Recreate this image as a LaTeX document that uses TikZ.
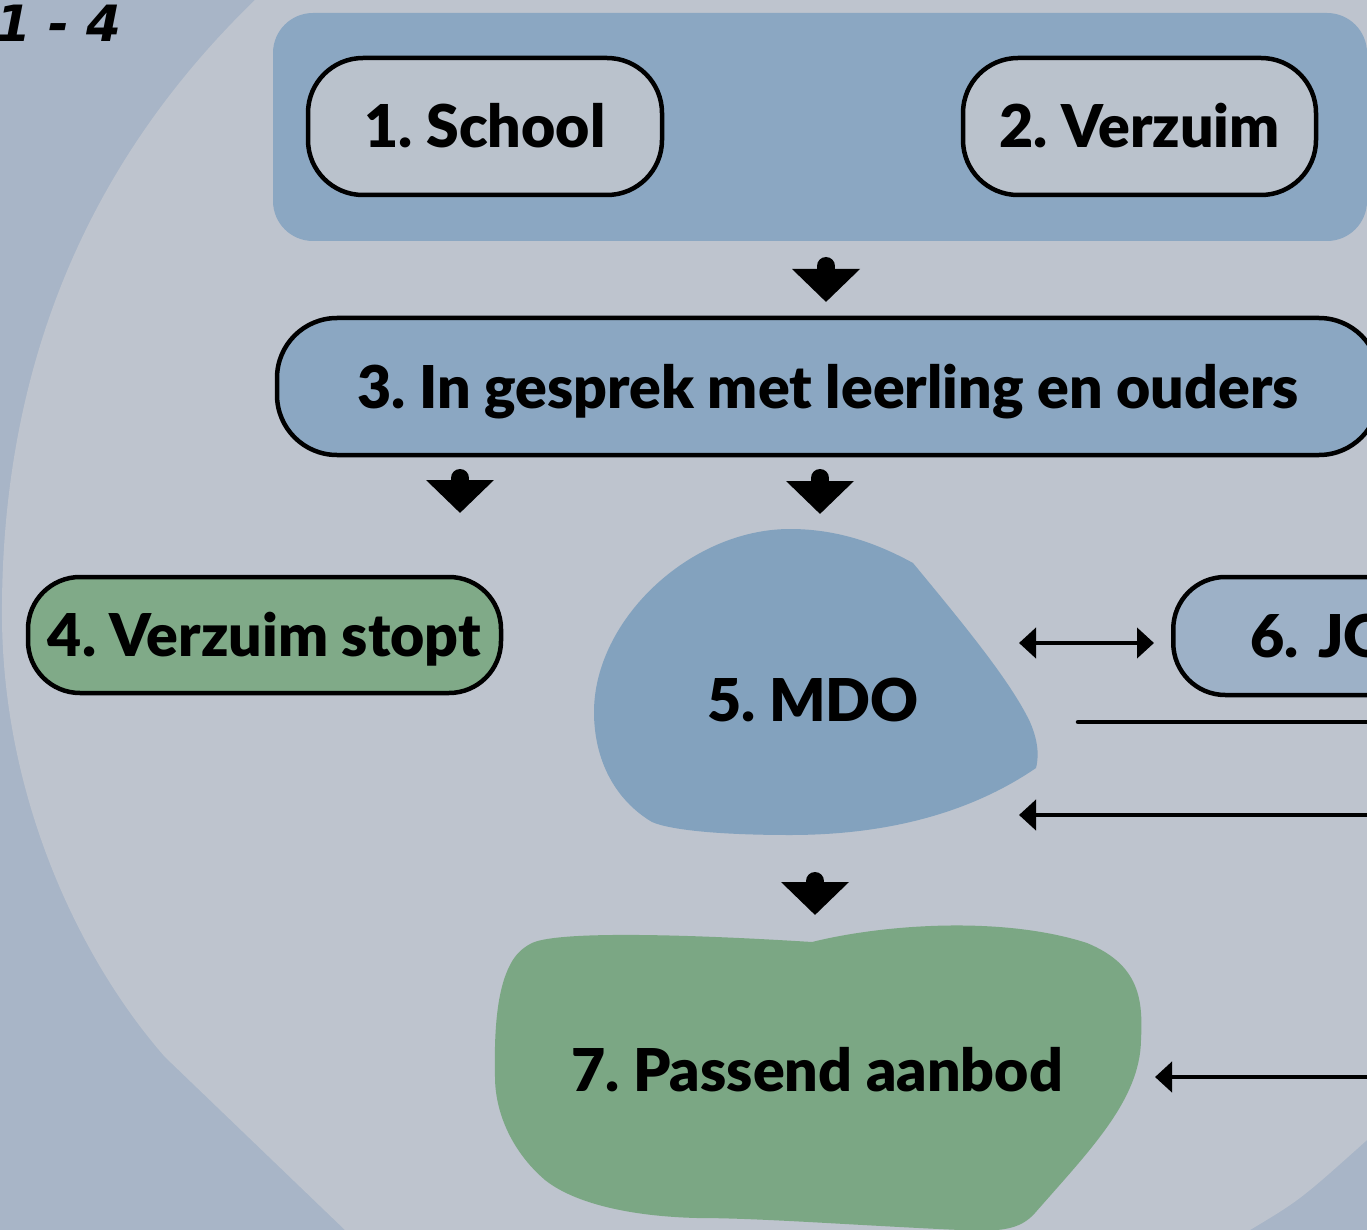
\documentclass[tikz,border=0pt]{standalone}
\usepackage{fontspec}
\setmainfont{Lato}[BoldFont={* Black}]
\newfontfamily\pagefont{DejaVu Sans}
\usetikzlibrary{arrows.meta,positioning}
\frenchspacing

\definecolor{bgdark}{HTML}{A8B5C7}
\definecolor{bglight}{HTML}{BEC4CE}
\definecolor{panelblue}{HTML}{8BA7C2}
\definecolor{boxgrey}{HTML}{BAC2CC}
\definecolor{boxgreen}{HTML}{80AA88}
\definecolor{blobgreen}{HTML}{7BA784}
\definecolor{mdoblue}{HTML}{83A2BE}
\definecolor{jgblue}{HTML}{9DB1C7}

\newcommand{\labelfont}{\fontsize{59}{70}\selectfont\bfseries}

\tikzset{
  pill/.style={draw=black, line width=4.5pt, rounded corners=55pt,
    minimum height=137pt, text height=43pt, text depth=0pt, font=\labelfont},
  drop/.style={line width=18pt, line cap=round, -{Triangle[width=66pt,length=33pt]}},
  harrow/.style={line width=4.5pt, -{Triangle[width=30pt,length=17pt]}},
  biarrow/.style={line width=4.5pt, {Triangle[width=30pt,length=17pt]}-{Triangle[width=30pt,length=17pt]}},
}

\begin{document}
\begin{tikzpicture}[x=1pt,y=-1pt]
  \useasboundingbox (0,0) rectangle (1367,1230);
  \clip (0,0) rectangle (1367,1230);

  % achtergrond
  \fill[bgdark] (0,0) rectangle (1367,1230);
  \fill[bglight] (255,0) .. controls (100,150) and (0,350) .. (2,620)
    .. controls (4,800) and (80,960) .. (165,1057) -- (345,1230) -- (1250,1230)
    .. controls (1300,1200) .. (1367,1140) -- (1367,0) -- cycle;

  \node[font=\pagefont\fontsize{50}{56}\selectfont\bfseries\itshape, anchor=base west, inner sep=0pt]
    (pagina) at (-4,42) {1 - 4};

  % bovenste groep
  \node[fill=panelblue, rounded corners=40pt, minimum width=1094pt, minimum height=228pt]
    (groep) at (820,127) {};
  \node[pill, fill=boxgrey, minimum width=354pt] (school) at (485,126.5) {1. School};
  \node[pill, fill=boxgrey, minimum width=353pt] (verzuim) at (1139.5,126.5) {2. Verzuim};

  \node[pill, fill=panelblue, rounded corners=60pt, minimum width=1102pt] (gesprek) at (828,386.5)
    {3. In gesprek met leerling en ouders};

  \node[pill, fill=boxgreen, rounded corners=52pt, minimum width=473pt, minimum height=116pt]
    (stopt) at (264.5,635) {4. Verzuim stopt};

  % MDO
  \fill[mdoblue] (913,563) .. controls (960,620) and (1010,680) .. (1030,722)
    .. controls (1040,745) and (1038,760) .. (1036,768)
    .. controls (960,820) and (870,835) .. (790,835)
    .. controls (720,835) and (670,830) .. (652,822)
    .. controls (615,800) and (594,760) .. (594,712)
    .. controls (594,620) and (690,529) .. (790,529)
    .. controls (840,529) and (880,545) .. (913,563) -- cycle;
  \node[font=\labelfont, text height=43pt, text depth=0pt] (mdo) at (813,700) {5. MDO};

  \node[pill, fill=jgblue, rounded corners=52pt, minimum height=118pt, anchor=west,
    text width=400pt, align=left, inner xsep=77pt] (jg) at (1171,636) {6. JG};

  % passend aanbod
  \fill[blobgreen] (532,943) .. controls (560,930) and (700,935) .. (812,942)
    .. controls (880,925) and (1000,915) .. (1087,943)
    .. controls (1140,965) and (1143,1000) .. (1141,1040)
    .. controls (1140,1100) and (1090,1150) .. (1035,1213)
    .. controls (1020,1230) and (1000,1232) .. (960,1230)
    .. controls (850,1225) and (760,1218) .. (697,1218)
    .. controls (620,1216) and (570,1200) .. (545,1180)
    .. controls (510,1150) and (495,1110) .. (495,1077)
    .. controls (494,1030) and (497,990) .. (510,965)
    .. controls (515,955) and (522,948) .. (532,943) -- cycle;
  \node[font=\labelfont, text height=43pt, text depth=0pt] (aanbod) at (817,1070) {7. Passend aanbod};

  % pijlen
  \coordinate (p1a) at (826,266);  \coordinate (p1b) at (826,302);
  \coordinate (p2a) at (460,478);  \coordinate (p2b) at (460,513);
  \coordinate (p3a) at (820,478);  \coordinate (p3b) at (820,514);
  \coordinate (p4a) at (815,881);  \coordinate (p4b) at (815,915);
  \draw[drop] (p1a) -- (p1b);
  \draw[drop] (p2a) -- (p2b);
  \draw[drop] (p3a) -- (p3b);
  \draw[drop] (p4a) -- (p4b);

  \coordinate (mdo-rechts) at (1019,643);
  \coordinate (jg-links) at (1154,643);
  \coordinate (lijn) at (1078,722);
  \coordinate (terug1) at (1380,722);
  \coordinate (terug2) at (1380,815);
  \coordinate (mdo-onder) at (1019,815);
  \coordinate (terug3) at (1380,1077);
  \coordinate (aanbod-rechts) at (1155,1077);
  \draw[biarrow] (mdo-rechts) -- (jg-links);
  \draw[line width=4.5pt, line cap=round] (lijn) -- (terug1);
  \draw[harrow] (terug2) -- (mdo-onder);
  \draw[harrow] (terug3) -- (aanbod-rechts);
\end{tikzpicture}
\end{document}
